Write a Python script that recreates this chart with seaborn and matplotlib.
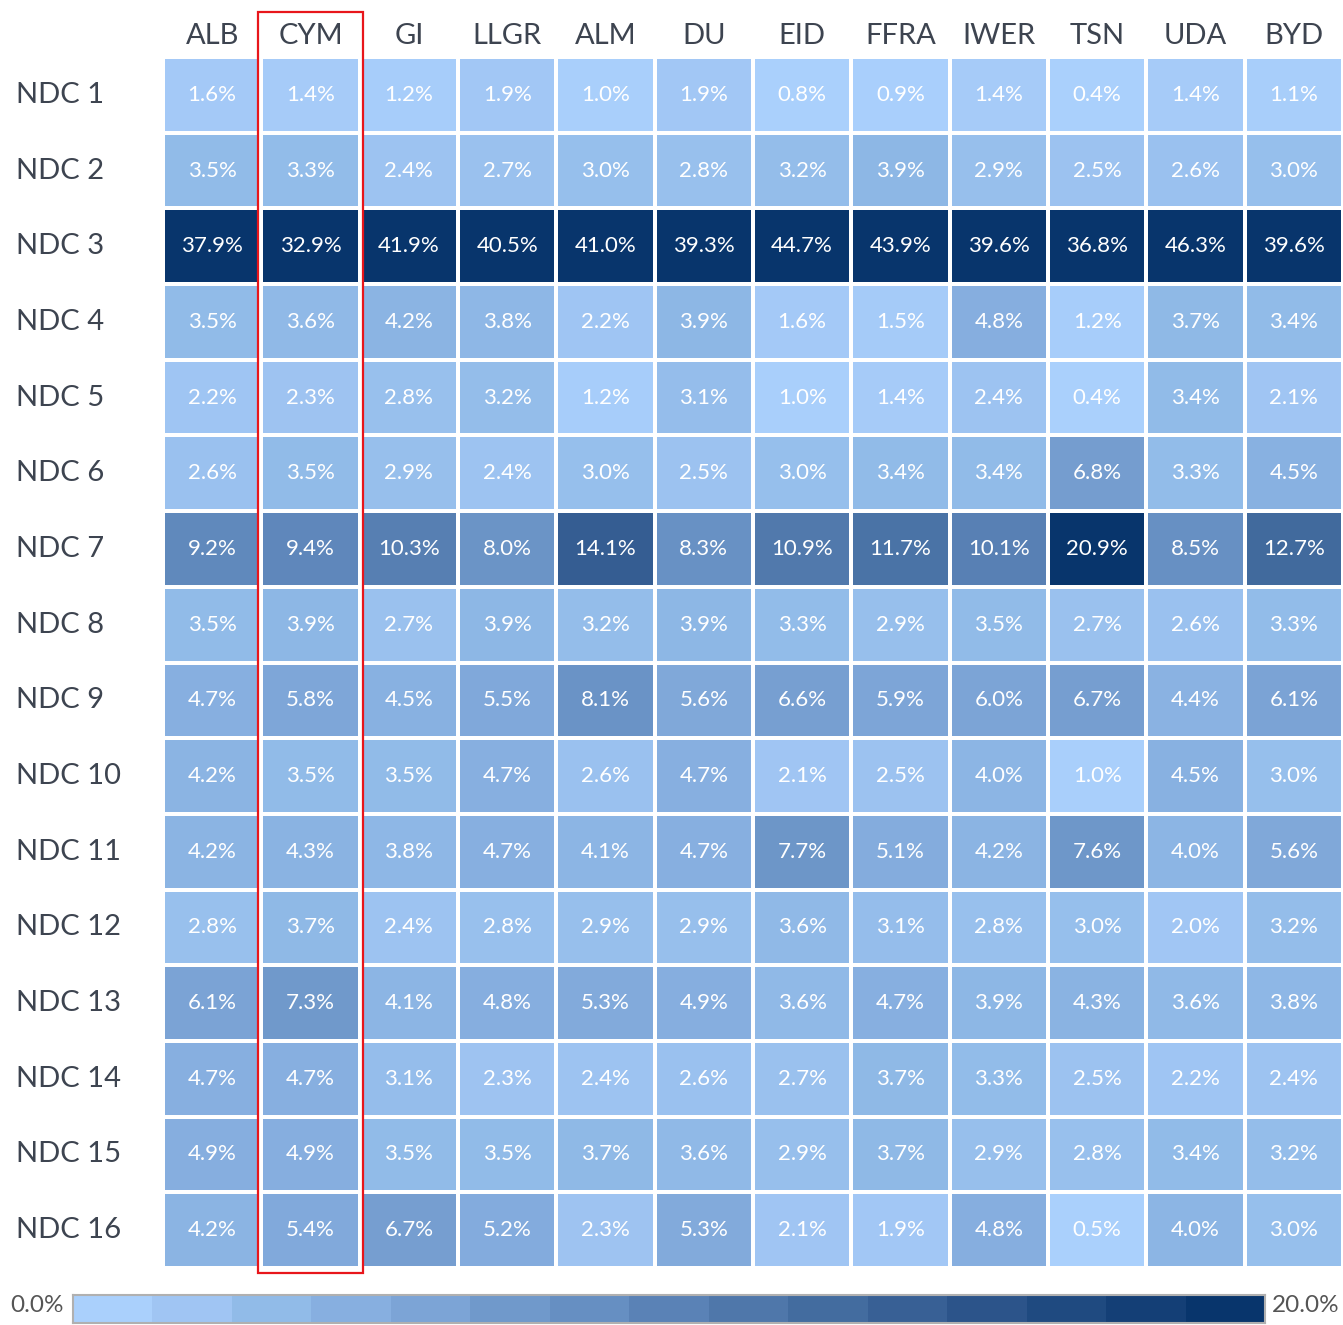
import numpy as np
import pandas as pd
import matplotlib
matplotlib.use("Agg")
import matplotlib.pyplot as plt
import matplotlib.patches as patches
from matplotlib.colors import ListedColormap, LinearSegmentedColormap
import seaborn as sns

# data
brands = ['ALB', 'CYM', 'GI', 'LLGR', 'ALM', 'DU', 'EID', 'FFRA', 'IWER', 'TSN', 'UDA', 'BYD']
rows = ['NDC 1', 'NDC 2', 'NDC 3', 'NDC 4', 'NDC 5', 'NDC 6', 'NDC 7', 'NDC 8',
        'NDC 9', 'NDC 10', 'NDC 11', 'NDC 12', 'NDC 13', 'NDC 14', 'NDC 15', 'NDC 16']
shares = [
    [1.6, 1.4, 1.2, 1.9, 1.0, 1.9, 0.8, 0.9, 1.4, 0.4, 1.4, 1.1],
    [3.5, 3.3, 2.4, 2.7, 3.0, 2.8, 3.2, 3.9, 2.9, 2.5, 2.6, 3.0],
    [37.9, 32.9, 41.9, 40.5, 41.0, 39.3, 44.7, 43.9, 39.6, 36.8, 46.3, 39.6],
    [3.5, 3.6, 4.2, 3.8, 2.2, 3.9, 1.6, 1.5, 4.8, 1.2, 3.7, 3.4],
    [2.2, 2.3, 2.8, 3.2, 1.2, 3.1, 1.0, 1.4, 2.4, 0.4, 3.4, 2.1],
    [2.6, 3.5, 2.9, 2.4, 3.0, 2.5, 3.0, 3.4, 3.4, 6.8, 3.3, 4.5],
    [9.2, 9.4, 10.3, 8.0, 14.1, 8.3, 10.9, 11.7, 10.1, 20.9, 8.5, 12.7],
    [3.5, 3.9, 2.7, 3.9, 3.2, 3.9, 3.3, 2.9, 3.5, 2.7, 2.6, 3.3],
    [4.7, 5.8, 4.5, 5.5, 8.1, 5.6, 6.6, 5.9, 6.0, 6.7, 4.4, 6.1],
    [4.2, 3.5, 3.5, 4.7, 2.6, 4.7, 2.1, 2.5, 4.0, 1.0, 4.5, 3.0],
    [4.2, 4.3, 3.8, 4.7, 4.1, 4.7, 7.7, 5.1, 4.2, 7.6, 4.0, 5.6],
    [2.8, 3.7, 2.4, 2.8, 2.9, 2.9, 3.6, 3.1, 2.8, 3.0, 2.0, 3.2],
    [6.1, 7.3, 4.1, 4.8, 5.3, 4.9, 3.6, 4.7, 3.9, 4.3, 3.6, 3.8],
    [4.7, 4.7, 3.1, 2.3, 2.4, 2.6, 2.7, 3.7, 3.3, 2.5, 2.2, 2.4],
    [4.9, 4.9, 3.5, 3.5, 3.7, 3.6, 2.9, 3.7, 2.9, 2.8, 3.4, 3.2],
    [4.2, 5.4, 6.7, 5.2, 2.3, 5.3, 2.1, 1.9, 4.8, 0.5, 4.0, 3.0],
]
legend_steps = list(range(15))

df = pd.DataFrame(shares, index=rows, columns=brands)
labels = df.map(lambda v: f"{v:.1f}%")

# blues
blues = ['#aad0fc', '#a0c5f3', '#91bbe8', '#87afe0', '#7ca4d6', '#7099cb', '#668fc2',
         '#5a82b6', '#4f77aa', '#436c9f', '#386095', '#2c548a', '#1f4a80', '#143f76', '#08356c']
cell_cmap = LinearSegmentedColormap.from_list('cells', blues)
step_cmap = ListedColormap(blues)

plt.rcParams['font.family'] = ['Lato', 'DejaVu Sans']
W, H = 1343, 1325
fig = plt.figure(figsize=(W / 100, H / 100), dpi=100)
ax = fig.add_axes([163 / W, 1 - 1268 / H, (W - 163) / W, (1268 - 57) / H])
cax = fig.add_axes([73 / W, 1 - 1323 / H, (1265 - 73) / W, 28 / H])

sns.heatmap(df, ax=ax, cmap=cell_cmap, vmin=0.8, vmax=19, annot=labels, fmt='',
            annot_kws={'color': 'white', 'fontsize': 16},
            linewidths=1.5, linecolor='white', cbar=False)

ax.xaxis.tick_top()
ax.tick_params(length=0)
ax.set_xticklabels(brands, fontsize=21, color='#3d4450', rotation=0)
ax.set_yticklabels(rows, fontsize=21, color='#3d4450', rotation=0, ha='left')
ax.tick_params(axis='x', pad=6)
ax.tick_params(axis='y', pad=106)
ax.set_xlabel('')
ax.set_ylabel('')

# stepped legend strip
sns.heatmap([legend_steps], ax=cax, cmap=step_cmap, cbar=False,
            xticklabels=False, yticklabels=False)
for s in cax.spines.values():
    s.set_visible(True)
    s.set_edgecolor('#b0b0b0')
    s.set_linewidth(1.5)
fig.text(10 / W, 1 - 1305 / H, '0.0%', fontsize=17.5, color='#555555', va='center', ha='left')
fig.text(1272 / W, 1 - 1305 / H, '20.0%', fontsize=17.5, color='#555555', va='center', ha='left')

# highlight the CYM column
rect = patches.Rectangle((258 / W, 1 - 1273 / H), (363 - 258) / W, (1273 - 12) / H,
                         transform=fig.transFigure, fill=False, edgecolor='#e8161b', linewidth=1.6)
fig.add_artist(rect)

plt.savefig('out.png', dpi=100)
